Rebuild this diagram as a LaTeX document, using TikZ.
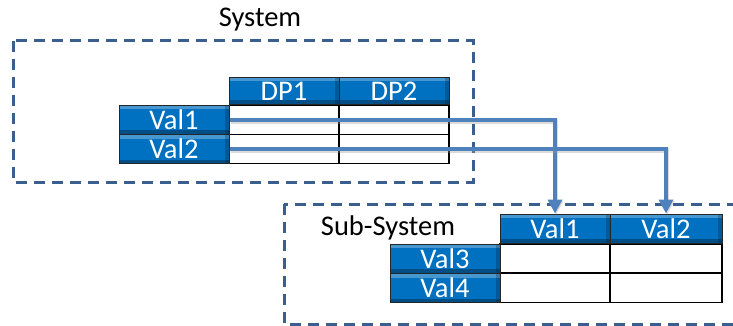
\documentclass[tikz,border=0pt]{standalone}
\usepackage{fontspec}
\setmainfont{Carlito}
\usetikzlibrary{arrows.meta}
\definecolor{btnblue}{RGB}{0,112,192}
\definecolor{linkblue}{RGB}{79,129,189}
\definecolor{frameblue}{RGB}{58,95,143}
\tikzset{
  btn/.style={draw=black!85, line width=1pt, fill=btnblue, text=white,
    inner sep=0pt, minimum width=110pt, minimum height=29pt,
    font=\fontsize{28.5}{32}\selectfont,
    path picture={
      \fill[white,opacity=0.28] (path picture bounding box.north west) rectangle ([yshift=-4pt]path picture bounding box.north east);
      \fill[black,opacity=0.3] (path picture bounding box.south west) rectangle ([yshift=4pt]path picture bounding box.south east);
      \fill[black,opacity=0.2] (path picture bounding box.north east) rectangle ([xshift=-4pt]path picture bounding box.south east);
    }},
  cell/.style={draw=black, line width=1.3pt, fill=white, inner sep=0pt,
    minimum width=110pt, minimum height=29pt},
  frame/.style={draw=frameblue, line width=3pt, dash pattern=on 11pt off 7pt},
  title/.style={font=\fontsize{28.5}{32}\selectfont, inner sep=0pt},
  link/.style={draw=linkblue, line width=4.5pt,
    -{Triangle[width=14pt,length=14pt]},
    preaction={draw=black!40, opacity=0.35, line width=4.5pt, transform canvas={xshift=1pt,yshift=-1.5pt}, -{Triangle[width=14pt,length=14pt]}}}
}
\begin{document}
\begin{tikzpicture}[x=1pt,y=-1pt]
\useasboundingbox (0,0) rectangle (733,326);
\clip (0,0) rectangle (733,326);

% system frame and title
\draw[frame] (13,41) rectangle (473,182);
\node[title] (systitle) at (260,20) {System};

% system table
\node[cell] (c11) at (284,120) {};
\node[cell] (c12) at (394,120) {};
\node[cell] (c21) at (284,149) {};
\node[cell] (c22) at (394,149) {};
\node[btn, minimum height=27pt] (dp1) at (284,91) {DP1};
\node[btn, minimum height=27pt] (dp2) at (394,91) {DP2};
\node[btn] (v1) at (174,120) {Val1};
\node[btn] (v2) at (174,149) {Val2};

% sub-system frame and title
\draw[frame] (284,204) rectangle (760,324);
\node[title] (subtitle) at (388,228) {Sub-System};

% sub-system table
\node[cell] (d11) at (555,258.5) {};
\node[cell, minimum width=112pt] (d12) at (666,258.5) {};
\node[cell] (d21) at (555,288) {};
\node[cell, minimum width=112pt] (d22) at (666,288) {};
\node[btn] (s1) at (555,228.5) {Val1};
\node[btn, minimum width=112pt] (s2) at (666,228.5) {Val2};
\node[btn] (v3) at (445,258.5) {Val3};
\node[btn] (v4) at (445,288) {Val4};

% value links
\draw[link] (v1.east) -| (s1.north);
\draw[link] (v2.east) -| (s2.north);
\end{tikzpicture}
\end{document}
